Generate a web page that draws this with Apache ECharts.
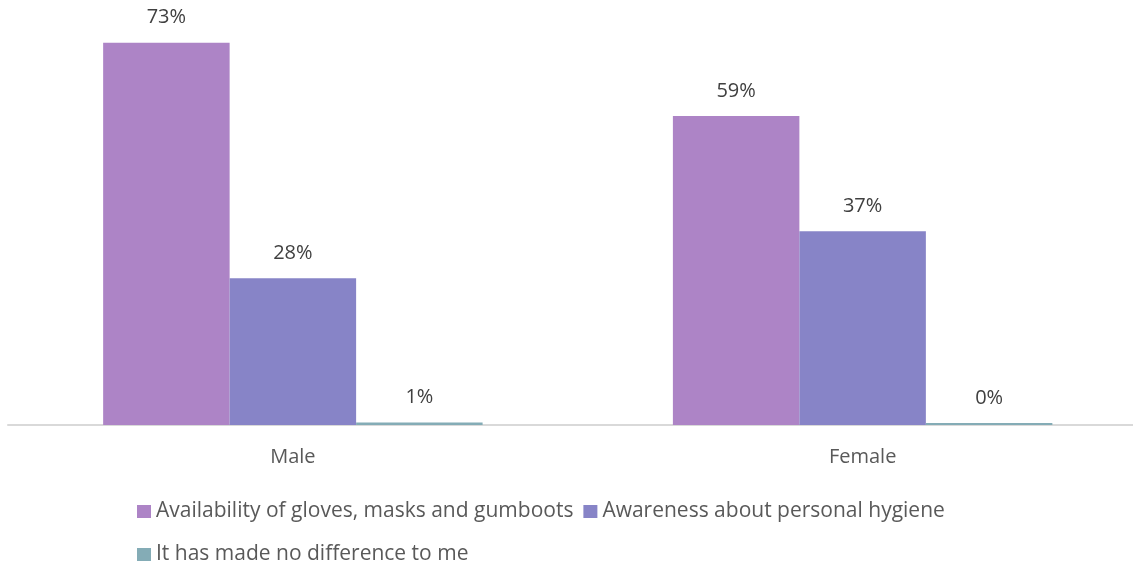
<!DOCTYPE html>
<html>
<head>
<meta charset="utf-8">
<script src="https://cdn.jsdelivr.net/npm/echarts@6/dist/echarts.min.js"></script>
<style>
html,body{margin:0;padding:0;background:#fff;}
#chart{width:1133px;height:565px;}
</style>
</head>
<body>
<div id="chart"></div>
<script>
const categories = ['Male', 'Female'];
const seriesNames = ['Availability of gloves, masks and gumboots', 'Awareness about personal hygiene', 'It has made no difference to me'];
const gloves = [73, 59];
const awareness = [28, 37];
const noDifference = [0.5, 0.4];
const colors = ['#AD84C6', '#8784C7', '#84ACB6'];

const chart = echarts.init(document.getElementById('chart'));
const labelStyle = {
  show: true, position: 'top', distance: 15,
  fontFamily: 'Open Sans', fontSize: 20, color: '#404040',
  formatter: p => Math.round(p.value) + '%'
};
const dataSets = [gloves, awareness, noDifference];
const legendText = {fontFamily: 'Open Sans', fontSize: 21, color: '#595959'};
chart.setOption({
  animation: false,
  color: colors,
  grid: {left: 8, right: -14.5, top: 6, bottom: 140, containLabel: false, outerBoundsMode: 'none'},
  legend: [
    {data: [seriesNames[0], seriesNames[1]], left: 137, top: 501, itemWidth: 14, itemHeight: 13, itemGap: 10,
     icon: 'rect', textStyle: legendText, padding: 0},
    {data: [seriesNames[2]], left: 137, top: 544, itemWidth: 14, itemHeight: 13, itemGap: 10,
     icon: 'rect', textStyle: legendText, padding: 0}
  ],
  xAxis: {
    type: 'category', data: categories,
    axisLine: {lineStyle: {color: '#D9D9D9', width: 2}},
    axisTick: {show: false},
    axisLabel: {margin: 22, fontFamily: 'Open Sans', fontSize: 20, color: '#595959'}
  },
  yAxis: {type: 'value', min: 0, max: 80, show: false, splitLine: {show: false}},
  series: seriesNames.map((n, i) => ({
    name: n, type: 'bar', data: dataSets[i],
    barGap: '0%', barCategoryGap: '33.4%',
    label: labelStyle
  }))
});
</script>
</body>
</html>
